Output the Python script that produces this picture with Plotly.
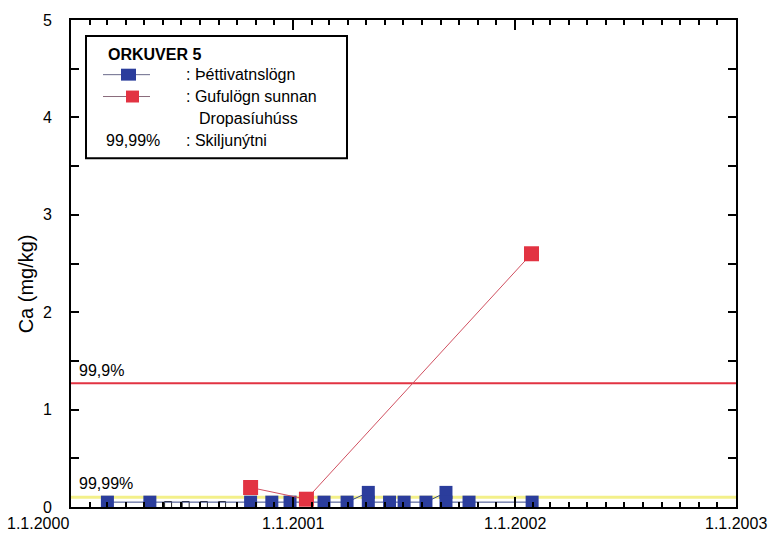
import plotly.graph_objects as go

# ---- data ----
blue_dates = ["2000-03-01", "2000-05-10", "2000-10-23", "2000-11-27", "2000-12-27",
              "2001-02-21", "2001-03-31", "2001-05-05", "2001-05-05", "2001-06-09",
              "2001-07-03", "2001-08-08", "2001-09-10", "2001-09-10", "2001-10-18",
              "2002-01-30"]
blue_vals = [0.05, 0.05, 0.05, 0.05, 0.05,
             0.05, 0.05, 0.15, 0.05, 0.05,
             0.05, 0.05, 0.15, 0.05, 0.05,
             0.05]
hollow_dates = ["2000-06-09", "2000-07-08", "2000-08-07", "2000-09-06"]
hollow_vals = [0.02, 0.02, 0.02, 0.02]
red_dates = ["2000-10-23", "2001-01-23", "2002-01-29"]
red_vals = [0.20, 0.08, 2.60]
limit_999 = 1.27
limit_9999 = 0.10
x_tick_dates = ["2000-01-01", "2001-01-01", "2002-01-01", "2003-01-01"]
x_tick_text = ["1.1.2000", "1.1.2001", "1.1.2002", "1.1.2003"]
legend_title = "ORKUVER 5"
legend_labels = [": Þéttivatnslögn", ": Gufulögn sunnan", "Dropasíuhúss", ": Skiljunýtni"]

FONT = "Liberation Sans, Arial, sans-serif"
BLUE = "#2b3d9c"
RED = "#e23342"
L, R, T, B = 71, 736, 17, 507
W, H = 778, 539

def px(x):
    return (x - L) / (R - L)

def py(y):
    return (B - y) / (B - T)

fig = go.Figure()

# reference lines
fig.add_trace(go.Scatter(x=[x_tick_dates[0], x_tick_dates[-1]], y=[limit_999, limit_999],
                         mode="lines", line=dict(color=RED, width=2), showlegend=False,
                         hoverinfo="skip"))
fig.add_trace(go.Scatter(x=[x_tick_dates[0], x_tick_dates[-1]], y=[limit_9999, limit_9999],
                         mode="lines", line=dict(color="#f3f08a", width=3), showlegend=False,
                         hoverinfo="skip"))

fig.add_trace(go.Scatter(x=hollow_dates, y=hollow_vals, mode="markers",
                         marker=dict(symbol="square", size=7, color="white",
                                     line=dict(color="#222", width=1)),
                         showlegend=False))
fig.add_trace(go.Scatter(x=blue_dates, y=blue_vals, mode="lines+markers",
                         line=dict(color="#3a4a8a", width=1),
                         marker=dict(symbol="square", size=13, color=BLUE),
                         showlegend=False))
fig.add_trace(go.Scatter(x=red_dates, y=red_vals, mode="lines+markers",
                         line=dict(color="#d05060", width=1),
                         marker=dict(symbol="square", size=15, color=RED),
                         showlegend=False))

shapes = []
annotations = []
LEG_SIZE = 16

# legend box
shapes.append(dict(type="rect", xref="paper", yref="paper",
                   x0=px(86), x1=px(347), y0=py(156), y1=py(33),
                   line=dict(color="black", width=2), fillcolor="white", layer="above"))
annotations.append(dict(text="<b>" + legend_title + "</b>", xref="paper", yref="paper",
                        x=px(106), y=py(52), xanchor="left", yanchor="middle",
                        showarrow=False, font=dict(family=FONT, size=LEG_SIZE, color="black")))
# row 1 sample
shapes.append(dict(type="line", xref="paper", yref="paper", x0=px(103), x1=px(150),
                   y0=py(72), y1=py(72), line=dict(color="#6a6a8a", width=1), layer="above"))
shapes.append(dict(type="rect", xref="paper", yref="paper", x0=px(121), x1=px(136),
                   y0=py(78), y1=py(66), line=dict(width=0), fillcolor=BLUE, layer="above"))
# row 2 sample
shapes.append(dict(type="line", xref="paper", yref="paper", x0=px(103), x1=px(150),
                   y0=py(94), y1=py(94), line=dict(color="#8a6a7a", width=1), layer="above"))
shapes.append(dict(type="rect", xref="paper", yref="paper", x0=px(126), x1=px(139),
                   y0=py(100), y1=py(88), line=dict(width=0), fillcolor=RED, layer="above"))

rows = [(184, 72, legend_labels[0]), (184, 94, legend_labels[1]),
        (197, 116, legend_labels[2]), (184, 138, legend_labels[3])]
for x, y, t in rows:
    annotations.append(dict(text=t, xref="paper", yref="paper", x=px(x), y=py(y),
                            xanchor="left", yanchor="middle", showarrow=False,
                            font=dict(family=FONT, size=LEG_SIZE, color="black")))
annotations.append(dict(text="99,99%", xref="paper", yref="paper", x=px(104), y=py(138),
                        xanchor="left", yanchor="middle", showarrow=False,
                        font=dict(family=FONT, size=LEG_SIZE, color="black")))

# reference line labels
annotations.append(dict(text="99,9%", xref="paper", yref="y", x=px(77), y=limit_999,
                        xanchor="left", yanchor="bottom", yshift=2, showarrow=False,
                        font=dict(family=FONT, size=16, color="black")))
annotations.append(dict(text="99,99%", xref="paper", yref="y", x=px(77), y=limit_9999,
                        xanchor="left", yanchor="bottom", yshift=3, showarrow=False,
                        font=dict(family=FONT, size=16, color="black")))

# x tick labels
for i, (d, t) in enumerate(zip(x_tick_dates, x_tick_text)):
    annotations.append(dict(text=t, xref="x", yref="paper", x=d, y=0,
                            xanchor="right" if i == 0 else "center", yanchor="top",
                            yshift=-6, xshift=0, showarrow=False,
                            font=dict(family=FONT, size=16, color="black")))

# y title
annotations.append(dict(text="Ca (mg/kg)", xref="paper", yref="paper", x=px(26), y=py(283),
                        xanchor="center", yanchor="middle", textangle=-90, showarrow=False,
                        font=dict(family=FONT, size=20, color="black")))

fig.update_layout(
    width=W, height=H,
    margin=dict(l=L, r=W - R, t=T, b=H - B),
    paper_bgcolor="white", plot_bgcolor="white",
    font=dict(family=FONT, size=16, color="black"),
    showlegend=False,
    shapes=shapes, annotations=annotations,
    xaxis=dict(type="date", range=[x_tick_dates[0], x_tick_dates[-1]],
               tickvals=x_tick_dates, showticklabels=False,
               showgrid=False, zeroline=False,
               showline=True, linecolor="black", linewidth=2, mirror="ticks",
               ticks="inside", ticklen=10, tickcolor="black", tickwidth=1.5,
               minor=dict(dtick="M1", ticks="inside", ticklen=5, tickcolor="black",
                          tickwidth=1.5, showgrid=False)),
    yaxis=dict(range=[0, 5], dtick=1, showgrid=False, zeroline=False,
               showline=True, linecolor="black", linewidth=2, mirror="ticks",
               ticks="inside", ticklen=8, tickcolor="black", tickwidth=1.5,
               ticklabelstandoff=14,
               tickfont=dict(family=FONT, size=16, color="black"),
               minor=dict(dtick=0.5, ticks="inside", ticklen=8, tickcolor="black",
                          tickwidth=1.5, showgrid=False)),
)

fig.write_html("out.html")
